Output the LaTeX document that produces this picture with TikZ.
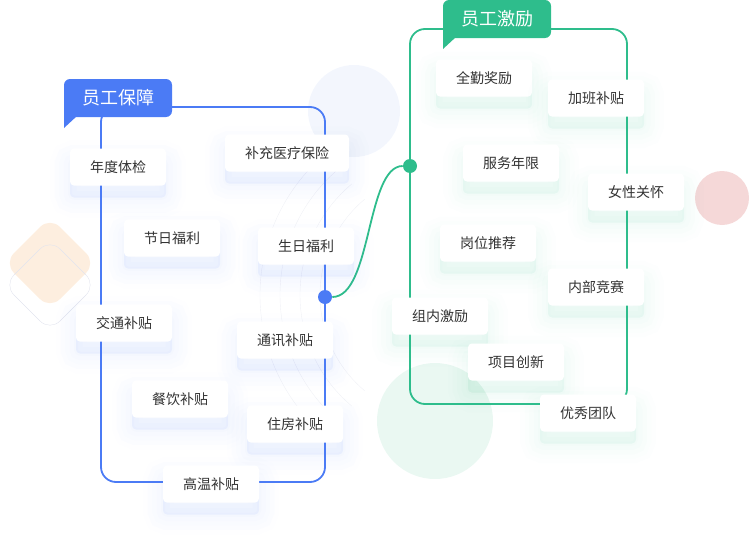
\documentclass[tikz,border=0pt]{standalone}
\usepackage{fontspec}
\setmainfont{Noto Sans CJK SC}
\usetikzlibrary{positioning}

\definecolor{bluemain}{RGB}{75,123,245}
\definecolor{greenmain}{RGB}{46,189,140}
\definecolor{textgray}{RGB}{51,51,51}
\definecolor{softblue}{RGB}{243,246,253}
\definecolor{softgreen}{RGB}{234,248,242}
\definecolor{softpink}{RGB}{245,216,216}
\definecolor{softpeach}{RGB}{253,238,223}
\definecolor{softlav}{RGB}{226,228,238}
\definecolor{arcgray}{RGB}{240,241,246}

\begin{document}
\begin{tikzpicture}[x=1pt,y=-1pt,font=\fontsize{14}{16}\selectfont,semithick]
			\tikzstyle{item}=[fill=white,rounded corners=4pt,minimum height=37pt,inner xsep=20pt,text=textgray]
			\tikzstyle{glow}=[preaction={draw=#1,fill=#1,line width=40pt,opacity=0.008,transform canvas={yshift=-12pt}},
				preaction={draw=#1,fill=#1,line width=31pt,opacity=0.01,transform canvas={yshift=-12pt}},
				preaction={draw=#1,fill=#1,line width=22pt,opacity=0.012,transform canvas={yshift=-12pt}},
				preaction={draw=#1,fill=#1,line width=13pt,opacity=0.014,transform canvas={yshift=-12pt}},
				preaction={draw=#1,fill=#1,line width=4pt,opacity=0.016,transform canvas={yshift=-12pt}}]
			\tikzstyle{bitem}=[item,glow=bluemain]
			\tikzstyle{gitem}=[item,glow=greenmain]
			\tikzstyle{tag}=[rounded corners=6pt,minimum width=108pt,minimum height=38pt,text=white,font=\fontsize{18}{20}\selectfont]
			\tikzstyle{dot}=[circle,inner sep=0pt,minimum size=14pt]
			\tikzstyle{frame}=[line width=1.8pt,rounded corners=15pt]
			
			\useasboundingbox (0,0) rectangle (750,554);
			
			% background shapes
			\fill[softblue] (354,111) circle (46pt);
			\fill[softgreen] (435,421) circle (58pt);
			\fill[softpink] (722,198) circle (27pt);
			\fill[softpeach,rounded corners=14pt] (50,217) -- (96,263) -- (50,309) -- (4,263) -- cycle;
			\draw[softlav,thin,rounded corners=14pt] (50,239) -- (96,285) -- (50,331) -- (4,285) -- cycle;
			\foreach \r in {125,145,165,185}
			\draw[arcgray,thin] (445,295) ++(130:\r pt) arc[start angle=130,end angle=230,radius=\r pt];
			
			% frames
			\draw[frame,bluemain] (101,107) rectangle (325,482);
			\draw[frame,greenmain] (410,29) rectangle (627,404);
			
			% link
			\node[dot,fill=bluemain]  (bdot) at (325,297) {};
			\node[dot,fill=greenmain] (gdot) at (410,166) {};
			\draw[greenmain,line width=1.8pt] (bdot) .. controls (372,297) and (366,166) .. (gdot);
			
			% staff benefits
			\node[bitem] (tijian)   at (118,167) {年度体检};
			\node[bitem] (yiliao)   at (287,153) {补充医疗保险};
			\node[bitem] (jieri)    at (172,238) {节日福利};
			\node[bitem] (shengri)  at (306,246) {生日福利};
			\node[bitem] (jiaotong) at (124,323) {交通补贴};
			\node[bitem] (tongxun)  at (285,340) {通讯补贴};
			\node[bitem] (canyin)   at (180,399) {餐饮补贴};
			\node[bitem] (zhufang)  at (295,424) {住房补贴};
			\node[bitem] (gaowen)   at (211,484) {高温补贴};
			
			% staff incentives
			\node[gitem] (quanqin)  at (484,78)  {全勤奖励};
			\node[gitem] (jiaban)   at (596,98)  {加班补贴};
			\node[gitem] (fuwu)     at (511,163) {服务年限};
			\node[gitem] (nvxing)   at (636,192) {女性关怀};
			\node[gitem] (gangwei)  at (488,243) {岗位推荐};
			\node[gitem] (neibu)    at (596,287) {内部竞赛};
			\node[gitem] (zunei)    at (440,316) {组内激励};
			\node[gitem] (xiangmu)  at (516,362) {项目创新};
			\node[gitem] (youxiu)   at (588,413) {优秀团队};
			
			% tags
			\fill[bluemain] (64,106) -- (64,128) -- (77,116) -- (77,106) -- cycle;
			\node[tag,fill=bluemain] (btag) at (118,98) {员工保障};
			\fill[greenmain] (443,27) -- (443,49) -- (456,37) -- (456,27) -- cycle;
			\node[tag,fill=greenmain] (gtag) at (497,19) {员工激励};
\end{tikzpicture}
\end{document}
